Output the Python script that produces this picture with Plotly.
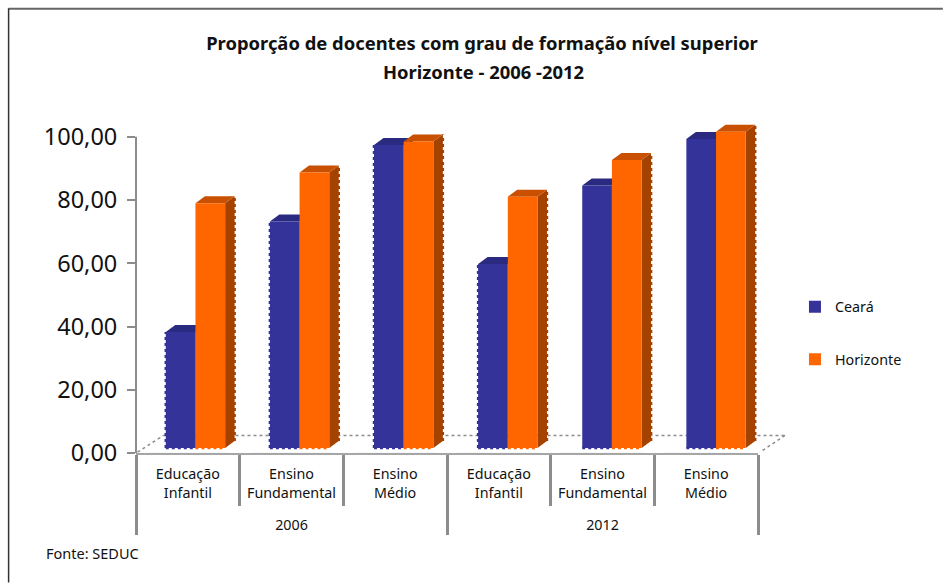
import plotly.graph_objects as go

categories = ["Educação<br>Infantil<br>&nbsp;", "Ensino<br>Fundamental<br>&nbsp;", "Ensino<br>Médio<br>&nbsp;"] * 2
years = ["2006"] * 3 + ["2012"] * 3
ceara = [36.7, 71.6, 95.8, 58.2, 83.0, 97.7]
horizonte = [77.4, 87.1, 96.9, 79.5, 91.1, 100.0]

W, H = 943, 583
L, R = 135.5, 758.0
Y0, PX = 453.3, 3.165
YMAX = 105
TOP = Y0 - YMAX * PX
LIFT = 5 / PX
STEP = 104.2
C0 = 195.0
BW = 29.7 / STEP
DX = 9.5 / STEP
DY = 7 / PX
xr = [(L - C0) / STEP, (R - C0) / STEP]
BLUE, BLUE_TOP, BLUE_SIDE = "#333399", "#2A2A80", "#26266F"
ORG, ORG_TOP, ORG_SIDE = "#FF6600", "#C85000", "#A64200"
GRAY = "#8C8C8C"
FONT = "Noto Sans"

idx = list(range(len(ceara)))
fig = go.Figure()
# invisible trace that carries the two-level category axis
fig.add_trace(go.Bar(x=[years, categories], y=[0] * 6, xaxis="x", yaxis="y",
                     showlegend=False, hoverinfo="skip", marker_color="rgba(0,0,0,0)"))
fig.add_trace(go.Bar(x=idx, y=ceara, base=LIFT, name="Ceará", xaxis="x2", yaxis="y", width=BW, offset=-BW,
                     marker=dict(color=BLUE, line=dict(width=0)), cliponaxis=False, legendgroup="a"))
fig.add_trace(go.Bar(x=idx, y=horizonte, base=LIFT, name="Horizonte", xaxis="x2", yaxis="y", width=BW, offset=0,
                     marker=dict(color=ORG, line=dict(width=0)), cliponaxis=False, legendgroup="b"))

shapes = []
def poly(pts, col):
    d = "M " + " L ".join(f"{x},{y}" for x, y in pts) + " Z"
    return dict(type="path", path=d, xref="x2", yref="y", fillcolor=col, line=dict(width=0), layer="below")
def edge(x0, y0, x1, y1, col):
    return dict(type="line", xref="x2", yref="y", x0=x0, y0=y0, x1=x1, y1=y1,
                line=dict(color=col, width=2.5, dash="dot"), layer="below")

for i in idx:
    for vals, x0, top, side, fc in ((ceara, i - BW, BLUE_TOP, BLUE_SIDE, BLUE), (horizonte, i, ORG_TOP, ORG_SIDE, ORG)):
        v = vals[i] + LIFT
        x1 = x0 + BW
        shapes.append(edge(x0, LIFT, x1, LIFT, fc))
        if fc == BLUE and i < 4:
            shapes.append(edge(x0, LIFT, x0, v, fc))
        if fc == ORG:
            shapes.append(edge(x1 + DX, LIFT + DY, x1 + DX, v + DY, side))
        shapes.append(poly([(x1, LIFT), (x1 + DX, LIFT + DY), (x1 + DX, v + DY), (x1, v)], side))
        shapes.append(poly([(x0, v), (x0 + DX, v + DY), (x1 + DX, v + DY), (x1, v)], top))

def px(x): return (x - L) / (R - L)
def py(y): return (Y0 - y) / (Y0 - TOP)
floor = [((137, 452.5), (163, 435.7)), ((163, 435.7), (785, 435.7)), ((785, 435.7), (760, 452.5))]
for a, b in floor:
    shapes.append(dict(type="line", xref="paper", yref="paper", x0=px(a[0]), y0=py(a[1]), x1=px(b[0]), y1=py(b[1]),
                       line=dict(color=GRAY, width=1.5, dash="dot"), layer="below"))
# value axis line stops at 100
shapes.append(dict(type="line", xref="paper", yref="y", x0=0, x1=0, y0=0, y1=100, line=dict(color=GRAY, width=2)))
# outer frame: only the top and left edges fall inside the picture
shapes.append(dict(type="line", xref="paper", yref="paper", x0=px(8), x1=px(943), y0=py(8.5), y1=py(8.5),
                   line=dict(color="#666666", width=2), layer="below"))
shapes.append(dict(type="line", xref="paper", yref="paper", x0=px(8), x1=px(8), y0=py(8), y1=py(583),
                   line=dict(color="#333333", width=1.5), layer="below"))

fig.update_layout(
    width=W, height=H, autosize=False, barmode="overlay", separators=",.",
    plot_bgcolor="white", paper_bgcolor="white",
    margin=dict(l=L, r=W - R, t=TOP, b=H - Y0, pad=0),
    font=dict(family=FONT, color="#111111"),
    title=dict(text="<b>Proporção de docentes com grau de formação nível superior</b>",
               x=482 / W, xanchor="center", y=1 - 44 / H, yanchor="middle",
               font=dict(family=FONT, size=18.4, color="#111111")),
    xaxis=dict(type="multicategory", range=[-0.5, 5.5], showline=True, linecolor="#A6A6A6", linewidth=2,
               ticks="outside", tickson="boundaries", ticklen=51, tickwidth=3, tickcolor=GRAY,
               dividercolor=GRAY, dividerwidth=3, tickfont=dict(size=14.3, family=FONT), showgrid=False, zeroline=False,
               ticklabelstandoff=7),
    xaxis2=dict(overlaying="x", range=xr, visible=False, anchor="y"),
    yaxis=dict(range=[0, YMAX], tickmode="array", tickvals=[0, 20, 40, 60, 80, 100], tickformat=".2f",
               ticks="outside", ticklen=8, tickwidth=2, tickcolor=GRAY, showgrid=False, zeroline=False,
               showline=False, tickfont=dict(size=23.5, family=FONT, color="#111111"), ticklabelstandoff=5),
    legend=dict(x=px(795), xanchor="left", y=py(291), yanchor="top", tracegroupgap=31,
                font=dict(size=14.3, family=FONT), itemwidth=30, bgcolor="rgba(0,0,0,0)"),
    shapes=shapes,
    annotations=[
        dict(text="<b>Horizonte - 2006 -2012</b>", xref="paper", yref="paper", x=px(483), y=py(71),
             xanchor="center", yanchor="middle", showarrow=False, font=dict(size=18.4, family=FONT, color="#111111")),
        dict(text="Fonte: SEDUC", xref="paper", yref="paper", x=px(43), y=py(553), xanchor="left", yanchor="middle",
             showarrow=False, font=dict(size=14.5, family=FONT, color="#111111")),
    ],
)
fig.write_html("out.html", post_script="document.body.style.margin='0';", config={"displayModeBar": False})
